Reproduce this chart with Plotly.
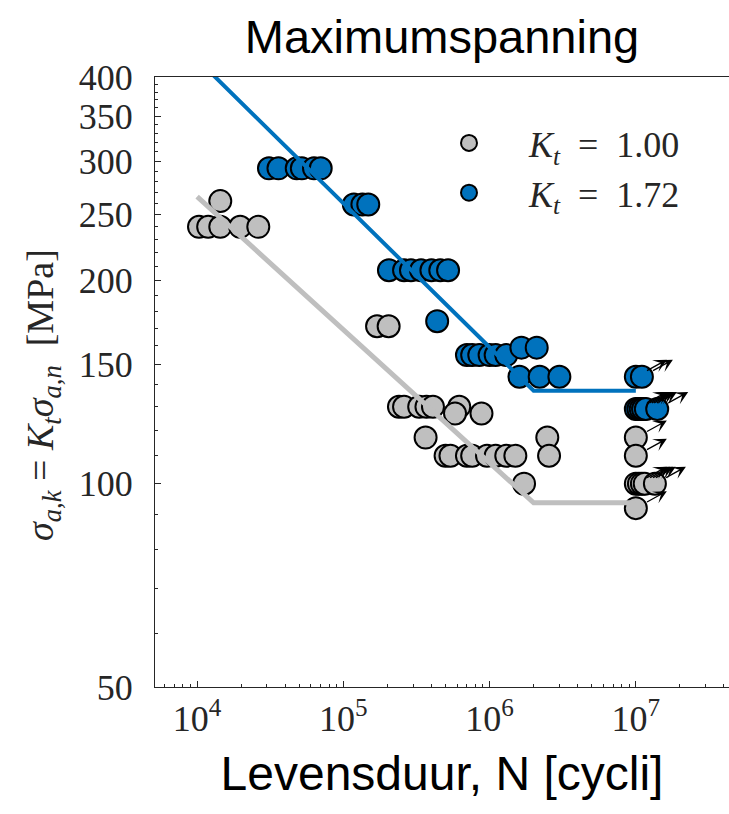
import math
import plotly.graph_objects as go

# ---------------- data ----------------
# Kt = 1.00 (unnotched) failures
N_kt100 = [14400, 10300, 11900, 14400, 19700, 26200,
           170000, 204000,
           240000, 260000, 330000, 370000, 410000, 620000,
           580000, 880000,
           365000, 2480000,
           500000, 540000, 700000, 760000, 960000, 1100000, 1300000, 1500000, 2550000,
           1720000]
S_kt100 = [262, 240, 240, 240, 240, 240,
           171, 171,
           130, 130, 130, 130, 130, 130,
           127, 127,
           117, 117,
           110, 110, 110, 110, 110, 110, 110, 110, 110,
           100]
# Kt = 1.00 run-outs
N_kt100_ro = [1.0e7, 1.0e7, 1.0e7, 1.05e7, 1.1e7, 1.15e7, 1.35e7, 1.0e7]
S_kt100_ro = [117, 110, 100, 100, 100, 100, 100, 92]

# Kt = 1.72 (notched) failures
N_kt172 = [31000, 36000, 48000, 52000, 63000, 70000,
           118000, 135000, 148000,
           205000, 260000, 290000, 340000, 400000, 460000, 520000,
           438000,
           700000, 760000, 850000, 1000000, 1100000, 1300000,
           1650000, 2100000,
           1600000, 2200000, 3000000]
S_kt172 = [293, 293, 293, 293, 293, 293,
           259, 259, 259,
           207, 207, 207, 207, 207, 207, 207,
           174,
           155, 155, 155, 155, 155, 155,
           159, 159,
           144, 144, 144]
# Kt = 1.72 run-outs
N_kt172_ro = [1.0e7, 1.1e7, 1.0e7, 1.04e7, 1.08e7, 1.12e7, 1.17e7, 1.4e7]
S_kt172_ro = [144, 144, 129, 129, 129, 129, 129, 129]

# S-N curves
N_curve = [1e4, 2e6, 1e7]
S_curve_kt100 = [266, 93.7, 93.7]
S_curve_kt172 = [425, 137.3, 137.3]

x_tickvals = [1e4, 1e5, 1e6, 1e7]
x_ticktext = ["10<sup>4</sup>", "10<sup>5</sup>", "10<sup>6</sup>", "10<sup>7</sup>"]
y_tickvals = [50, 100, 150, 200, 250, 300, 350, 400]
y_ticktext = ["50", "100", "150", "200", "250", "300", "350", "400"]

# ---------------- style ----------------
GRAY = "#BFBFBF"
BLUE = "#0072BD"
AX = "#262626"
SERIF = "Liberation Serif"
SANS = "Liberation Sans"

W, H = 729, 814
ML, MR, MT, MB = 155, 0, 77, 127
x_range = [3.712, 7.637]
y_range = [math.log10(50), math.log10(400)]
px_per_dec_x = (W - ML - MR) / (x_range[1] - x_range[0])
px_per_dec_y = (H - MT - MB) / (y_range[1] - y_range[0])

fig = go.Figure()

SP = "\u2002"
mk = dict(size=22, line=dict(color="black", width=2))
fig.add_trace(go.Scatter(x=N_kt100 + N_kt100_ro, y=S_kt100 + S_kt100_ro, mode="markers",
                         marker=dict(color=GRAY, **mk),
                         name=f"<i>K</i><sub><i>t</i></sub>{SP}={SP}1.00"))
fig.add_trace(go.Scatter(x=N_kt172 + N_kt172_ro, y=S_kt172 + S_kt172_ro, mode="markers",
                         marker=dict(color=BLUE, **mk),
                         name=f"<i>K</i><sub><i>t</i></sub>{SP}={SP}1.72"))
fig.add_trace(go.Scatter(x=N_curve, y=S_curve_kt100, mode="lines",
                         line=dict(color=GRAY, width=5), showlegend=False))
fig.add_trace(go.Scatter(x=N_curve, y=S_curve_kt172, mode="lines",
                         line=dict(color=BLUE, width=4), showlegend=False))

# run-out arrows
annotations = []
dx_px, dy_px = 31, 17
for Ns, Ss in ((N_kt100_ro, S_kt100_ro), (N_kt172_ro, S_kt172_ro)):
    for n, s in zip(Ns, Ss):
        lx, ly = math.log10(n), math.log10(s)
        annotations.append(dict(
            x=lx + dx_px / px_per_dec_x, y=ly + dy_px / px_per_dec_y,
            ax=lx, ay=ly, xref="x", yref="y", axref="x", ayref="y",
            showarrow=True, arrowhead=3, arrowsize=1.7, arrowwidth=1.3,
            arrowcolor="black", startstandoff=11, text=""))

# y-axis title (rotated)
annotations.append(dict(
    text="<i>σ</i><sub><i>a,k</i></sub> = <i>K</i><sub><i>t</i></sub><i>σ</i><sub><i>a,n</i></sub>  [MPa]",
    x=-(ML - 43) / (W - ML - MR), y=(687 - 395) / (H - MT - MB),
    xref="paper", yref="paper", xanchor="center", yanchor="middle",
    textangle=-90, showarrow=False, font=dict(family=SERIF, size=38, color=AX)))

minor_x = [k * 10 ** e for e in range(3, 8) for k in range(2, 10)]
minor_y = [v for v in range(60, 400, 10) if v % 50 != 0]

fig.update_layout(
    width=W, height=H,
    margin=dict(l=ML, r=MR, t=MT, b=MB, pad=0),
    paper_bgcolor="white", plot_bgcolor="white",
    title=dict(text="Maximumspanning", x=(ML + (W - ML) / 2) / W, xanchor="center",
               y=1 - 37 / H, yanchor="middle", yref="container",
               font=dict(family=SANS, size=47, color="black")),
    showlegend=True,
    legend=dict(x=(409 - ML) / (W - ML), y=(687 - 113) / (H - MT - MB),
                xanchor="left", yanchor="top", itemwidth=110,
                bgcolor="rgba(0,0,0,0)", font=dict(family=SERIF, size=36, color=AX)),
    annotations=annotations,
    xaxis=dict(type="log", range=x_range, showgrid=False, zeroline=False,
               showline=True, linecolor=AX, linewidth=1, mirror=True,
               ticks="inside", ticklen=6, tickcolor=AX,
               tickvals=x_tickvals, ticktext=x_ticktext,
               tickfont=dict(family=SERIF, size=36, color=AX),
               minor=dict(ticks="inside", ticklen=3, tickcolor=AX, tickvals=minor_x, showgrid=False),
               title=dict(text="Levensduur, N [cycli]", standoff=18,
                          font=dict(family=SANS, size=48, color="black"))),
    yaxis=dict(type="log", range=y_range, showgrid=False, zeroline=False,
               showline=True, linecolor=AX, linewidth=1, mirror=False,
               ticks="inside", ticklen=6, tickcolor=AX,
               tickvals=y_tickvals, ticktext=y_ticktext,
               tickfont=dict(family=SERIF, size=36, color=AX),
               ticklabelstandoff=14,
               minor=dict(ticks="inside", ticklen=3, tickcolor=AX, tickvals=minor_y, showgrid=False)),
)

fig.write_html("out.html")
